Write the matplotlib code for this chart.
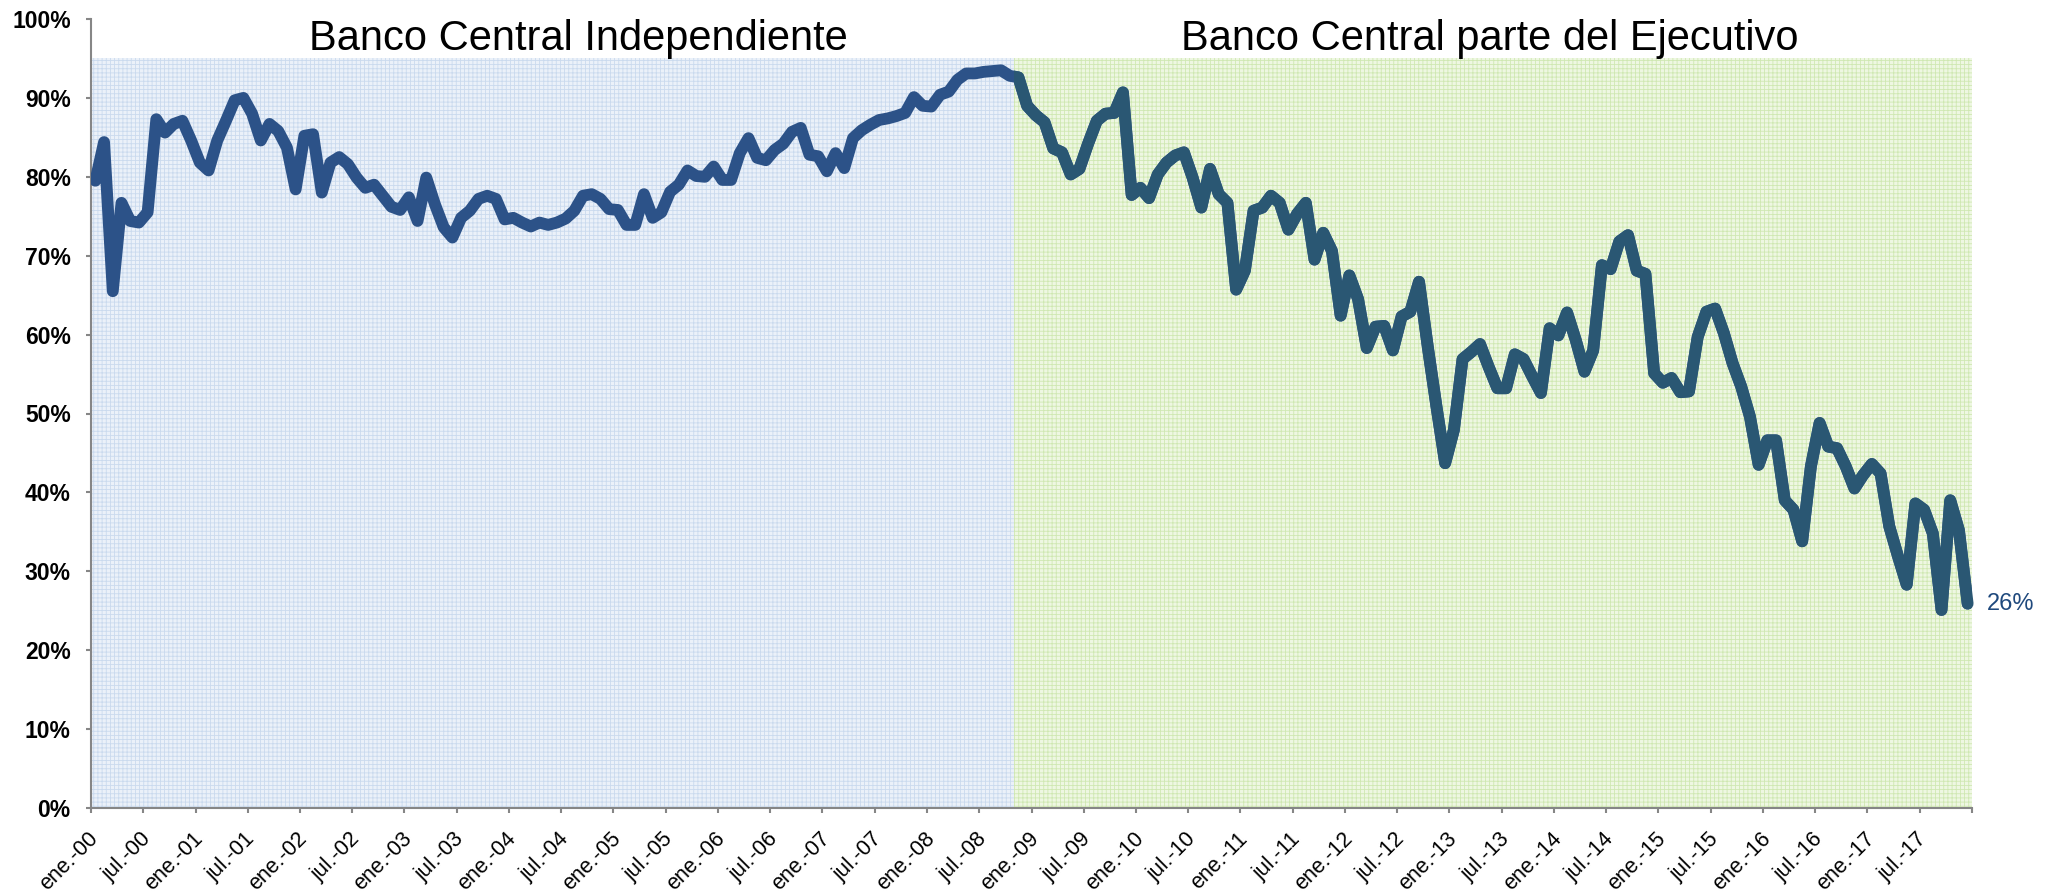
import matplotlib.pyplot as plt
from matplotlib.patches import Rectangle
import numpy as np

# ---- data: monthly share (%), ene-2000 .. dic-2017 ----
# Banco Central Independiente (ene-00 .. oct-08)
indep_vals = [
    79.5, 84.4, 65.5, 76.7, 74.4, 74.2, 75.5, 87.3, 85.6, 86.7, 87.1, 84.6,
    81.8, 80.8, 84.6, 87.1, 89.7, 90.0, 88.0, 84.6, 86.7, 85.8, 83.7, 78.4,
    85.2, 85.4, 78.0, 81.8, 82.5, 81.6, 79.9, 78.6, 79.0, 77.6, 76.2, 75.8,
    77.4, 74.4, 79.9, 76.5, 73.6, 72.3, 74.8, 75.7, 77.2, 77.6, 77.2, 74.6,
    74.8, 74.2, 73.7, 74.2, 73.9, 74.2, 74.7, 75.7, 77.6, 77.8, 77.2, 75.9,
    75.8, 73.9, 73.9, 77.8, 74.8, 75.5, 78.1, 79.0, 80.8, 80.1, 80.0, 81.3,
    79.6, 79.6, 83.0, 84.9, 82.4, 82.1, 83.4, 84.2, 85.7, 86.2, 82.8, 82.6,
    80.7, 83.0, 81.1, 84.9, 85.9, 86.6, 87.2, 87.4, 87.7, 88.1, 90.1, 89.0,
    88.9, 90.4, 90.8, 92.3, 93.1, 93.1, 93.3, 93.4, 93.5, 92.8,
]
# Banco Central parte del Ejecutivo (nov-08 .. dic-17)
ejec_vals = [
    92.6, 89.0,
    87.8, 86.9, 83.6, 83.1, 80.3, 81.0, 84.2, 87.1, 88.0, 88.1, 90.7, 77.7,
    78.6, 77.3, 80.3, 81.8, 82.7, 83.1, 79.9, 76.1, 81.0, 77.8, 76.7, 65.7,
    68.1, 75.7, 76.1, 77.6, 76.7, 73.3, 75.3, 76.7, 69.5, 72.9, 70.6, 62.4,
    67.5, 64.5, 58.3, 61.0, 61.1, 58.0, 62.3, 62.9, 66.7, 58.5, 50.9, 43.7,
    47.9, 56.9, 57.8, 58.8, 55.9, 53.2, 53.2, 57.5, 56.9, 54.7, 52.6, 60.8,
    59.9, 62.8, 59.3, 55.3, 58.0, 68.8, 68.3, 71.8, 72.6, 68.1, 67.7, 55.1,
    53.9, 54.5, 52.7, 52.8, 59.7, 62.9, 63.3, 60.2, 56.4, 53.4, 49.6, 43.5,
    46.6, 46.6, 39.0, 37.8, 33.8, 43.3, 48.8, 45.8, 45.6, 43.3, 40.5, 42.2,
    43.6, 42.4, 35.7, 31.9, 28.3, 38.6, 37.8, 34.8, 25.1, 39.0, 35.2, 25.9,
]
period_titles = ["Banco Central Independiente", "Banco Central parte del Ejecutivo"]
tick_labels = [f"{m}.-{y:02d}" for y in range(18) for m in ("ene", "jul")]
y_ticks = list(range(0, 101, 10))

plt.rcParams['font.family'] = ['Liberation Sans', 'DejaVu Sans']
plt.rcParams['hatch.linewidth'] = 0.6

values = indep_vals + ejec_vals
months = np.arange(len(values)) + 0.5
n_ind = len(indep_vals)
n_all = len(values)

fig = plt.figure(figsize=(20.56, 8.94), dpi=100)
ax = fig.add_axes([91 / 2056, 86 / 894, (1972 - 91) / 2056, (875 - 86) / 894])

# shaded periods (Excel-style patterned bars)
ax.bar(0, 95, width=n_ind, align='edge', color='#EBF1F9', edgecolor='#CADAEE',
       linewidth=0, hatch='++++', zorder=1)
ax.bar(n_ind, 95, width=len(ejec_vals), align='edge', color='#EEF7E2',
       edgecolor='#CFE8B2', linewidth=0, hatch='++++', zorder=1)

# line: blue over the first period, darker teal over the second
ax.plot(months, values, color='#2C5288', lw=8.5,
        solid_joinstyle='round', solid_capstyle='round', zorder=3)
line2, = ax.plot(months, values, color='#2A5773', lw=8.5,
                 solid_joinstyle='round', solid_capstyle='round', zorder=4)
clip = Rectangle((n_ind, -10), n_all, 120, transform=ax.transData)
line2.set_clip_path(clip)

ax.annotate(f"{values[-1]:.0f}%", xy=(months[-1], values[-1]), xytext=(14, 0),
            textcoords='offset points', va='center', ha='left', fontsize=17,
            color='#1F497D', annotation_clip=False)

ax.text(56, 96.1, period_titles[0], ha='center', va='baseline', fontsize=30)
ax.text(160.6, 96.1, period_titles[1], ha='center', va='baseline', fontsize=30)

ax.set_xlim(0, n_all)
ax.set_ylim(0, 100)

ax.set_yticks(y_ticks)
ax.set_yticklabels([f"{v}%" for v in y_ticks], fontweight='bold')
ax.tick_params(axis='y', length=3.6, width=1.5, color='#868686', pad=11, labelsize=16.5)

ax.set_xticks(np.arange(0, n_all + 1, 6))
ax.set_xticklabels([])
ax.set_xticks(np.arange(0, n_all, 6) + 0.5, minor=True)
ax.set_xticklabels(tick_labels, minor=True, rotation=45, ha='right',
                   va='center', rotation_mode='anchor', fontsize=15.5)
ax.tick_params(axis='x', which='major', length=3.6, width=1.5, color='#868686')
ax.tick_params(axis='x', which='minor', length=0, pad=20)

for s in ['top', 'right']:
    ax.spines[s].set_visible(False)
for s in ['left', 'bottom']:
    ax.spines[s].set_color('#868686')
    ax.spines[s].set_linewidth(1.5)

fig.savefig('out.png', dpi=100)
